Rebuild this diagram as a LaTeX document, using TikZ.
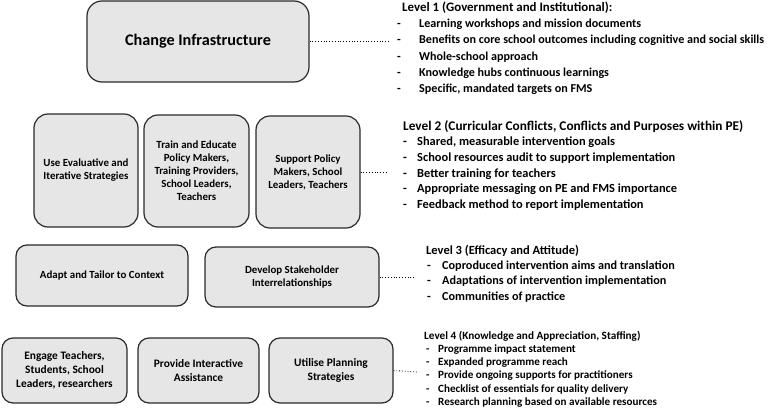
\documentclass[tikz,border=0pt]{standalone}
\usepackage{fontspec}
\setmainfont{Carlito}
\definecolor{boxfill}{HTML}{E6E6E6}
\definecolor{boxline}{HTML}{2A2A2A}
\begin{document}
\begin{tikzpicture}[x=1pt,y=-1pt,
  sbox/.style={draw=boxline,fill=boxfill,line width=1.2pt,rounded corners=#1,align=center,inner sep=1pt,
    font=\bfseries\fontsize{10.9}{13}\selectfont},
  sbox/.default=12pt,
  conn/.style={dotted,line width=0.8pt,black},
  ttl/.style={anchor=mid west,inner sep=0pt,font=\bfseries\fontsize{#1}{#1}\selectfont},
  itm/.style={anchor=mid west,inner sep=0pt,font=\bfseries\fontsize{#1}{#1}\selectfont},
]
\useasboundingbox (0,0) rectangle (777,410);
% boxes
\node[sbox=15pt,minimum width=222pt,minimum height=81pt,font=\bfseries\fontsize{16.2}{19}\selectfont] (ci) at (198,41.5) {Change Infrastructure};
\node[sbox=14pt,minimum width=104pt,minimum height=113pt] (r2a) at (86,170.5) {Use Evaluative and\\Iterative Strategies};
\node[sbox=14pt,minimum width=105pt,minimum height=112pt] (r2b) at (196.5,171) {Train and Educate\\Policy Makers,\\Training Providers,\\School Leaders,\\Teachers};
\node[sbox=14pt,minimum width=104pt,minimum height=112pt] (r2c) at (308,172) {Support Policy\\Makers, School\\Leaders, Teachers};
\node[sbox=11pt,minimum width=172pt,minimum height=61pt] (r3a) at (102,275.5) {Adapt and Tailor to Context};
\node[sbox=11pt,minimum width=174pt,minimum height=60pt] (r3b) at (292,277) {Develop Stakeholder\\Interrelationships};
\tikzset{r4/.style={sbox=11pt,minimum height=65pt,font=\bfseries\fontsize{11.4}{14}\selectfont}}
\node[r4,minimum width=125pt] (r4a) at (64.5,370.5) {Engage Teachers,\\Students, School\\Leaders, researchers};
\node[r4,minimum width=121pt] (r4b) at (198.5,370.5) {Provide Interactive\\Assistance};
\node[r4,minimum width=124pt] (r4c) at (331,370.5) {Utilise Planning\\Strategies};
% connector ends
\coordinate (e1) at (389,41.5);
\coordinate (e2) at (388,172);
\coordinate (e3) at (415,277);
\coordinate (e4) at (417,372);
\draw[conn] (ci.east) -- (e1);
\draw[conn] (r2c.east) -- (e2);
\draw[conn] (r3b.east) -- (e3);
\draw[conn] (r4c.east) -- (e4);
% Level 1
\node[ttl=12.9] (t1) at (402,9) {Level 1 (Government and Institutional):};
\foreach \t [count=\i] in {Learning workshops and mission documents,Benefits on core school outcomes including cognitive and social skills,Whole-school approach,Knowledge hubs continuous learnings,{Specific, mandated targets on FMS}}{
  \node[itm=12.1] (d1\i) at (397,{9+16.3*\i}) {-};
  \node[itm=12.1] (i1\i) at (419,{9+16.3*\i}) {\t};
}
% Level 2
\node[ttl=13.3] (t2) at (403,128) {Level 2 (Curricular Conflicts, Conflicts and Purposes within PE)};
\foreach \t [count=\i] in {{Shared, measurable intervention goals},School resources audit to support implementation,Better training for teachers,Appropriate messaging on PE and FMS importance,Feedback method to report implementation}{
  \node[itm=12.4] (d2\i) at (403,{128+15.6*\i}) {-};
  \node[itm=12.4] (i2\i) at (417,{128+15.6*\i}) {\t};
}
% Level 3
\node[ttl=12.5] (t3) at (426,252) {Level 3 (Efficacy and Attitude)};
\foreach \t [count=\i] in {Coproduced intervention aims and translation,Adaptations of intervention implementation,Communities of practice}{
  \node[itm=12.2] (d3\i) at (427,{252+15.3*\i}) {-};
  \node[itm=12.2] (i3\i) at (442,{252+15.3*\i}) {\t};
}
% Level 4
\node[ttl=11.2] (t4) at (424,337) {Level 4 (Knowledge and Appreciation, Staffing)};
\foreach \t [count=\i] in {Programme impact statement,Expanded programme reach,Provide ongoing supports for practitioners,Checklist of essentials for quality delivery,Research planning based on available resources}{
  \node[itm=11.1] (d4\i) at (426,{337+13.2*\i}) {-};
  \node[itm=11.1] (i4\i) at (438,{337+13.2*\i}) {\t};
}
\end{tikzpicture}
\end{document}
